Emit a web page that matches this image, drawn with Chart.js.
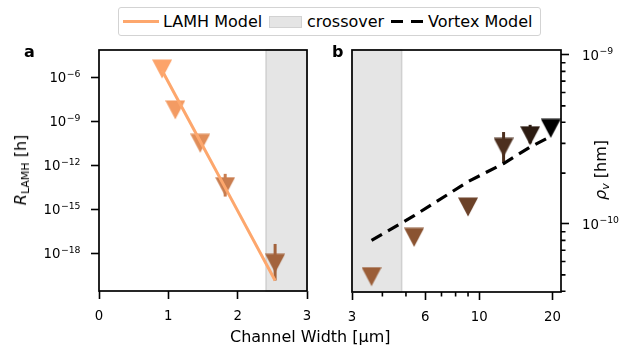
<!DOCTYPE html>
<html>
<head>
<meta charset="utf-8">
<script src="https://cdn.jsdelivr.net/npm/chart.js@4.4.0/dist/chart.umd.min.js"></script>
<style>
body { margin: 0; background: #fff; }
#wrap { position: relative; width: 630px; height: 348px; overflow: hidden; font-family: 'DejaVu Sans', sans-serif; }
#wrap canvas { position: absolute; top: 0; }
.t { position: absolute; font-size: 16px; line-height: 16px; white-space: nowrap; color: #000; }
.sw { position: absolute; }
.ytitle { position: absolute; font-size: 16px; line-height: 16px; white-space: nowrap; transform: translate(-50%, -50%) rotate(-90deg); }
.ytitle sub { font-size: 11px; vertical-align: -3px; line-height: 0; }
</style>
</head>
<body>
<div id="wrap">
  <canvas id="chartA" width="320" height="348" style="left:0"></canvas>
  <canvas id="chartB" width="310" height="348" style="left:320px"></canvas>

  <!-- legend -->
  <div class="sw" style="left:118px;top:7px;width:423px;height:29px;box-sizing:border-box;border:1px solid #d3d3d3;border-radius:3px;background:#fff"></div>
  <div class="sw" style="left:123px;top:19.5px;width:36px;height:3px;background:#fda76d"></div>
  <div class="t" style="left:163px;top:13.8px">LAMH Model</div>
  <div class="sw" style="left:269px;top:16px;width:33px;height:12px;box-sizing:border-box;background:#e5e5e5;border:1px solid #d2d2d2"></div>
  <div class="t" style="left:307px;top:13.8px">crossover</div>
  <div class="sw" style="left:391px;top:19.5px;width:12px;height:3px;background:#000"></div>
  <div class="sw" style="left:411px;top:19.5px;width:12px;height:3px;background:#000"></div>
  <div class="t" style="left:428px;top:13.8px">Vortex Model</div>

  <!-- panel letters -->
  <div class="t" style="left:24px;top:43.5px;font-weight:bold">a</div>
  <div class="t" style="left:332px;top:43.5px;font-weight:bold">b</div>

  <!-- axis titles -->
  <div class="ytitle" style="left:21px;top:170px"><i>R</i><sub>LAMH</sub> [h]</div>
  <div class="ytitle" style="left:601px;top:170px"><i>ρ</i><sub><i>v</i></sub> [hm]</div>
  <div class="t" style="left:230px;top:329px">Channel Width [µm]</div>
</div>

<script>
// PANEL A - LAMH regime
var widthA = [0.91, 1.1, 1.46, 1.82, 2.54];
var resA = [3.9e-6, 6.3e-9, 3.3e-11, 3.6e-14, 2.1e-19];
var resLoA = [null, null, null, 7.6e-15, 1.4e-20];
var resHiA = [null, null, null, 2.7e-13, 4.4e-18];
var lamhModel = [3.1e-6, 6.6e-8, 4.5e-11, 3.1e-14, 1.4e-20];
var colorsA = ["#fca36a", "#f39b63", "#e08d58", "#c97d4f", "#a3633c"];
var crossoverA = [2.41, 3];
var xTicksA = [0, 1, 2, 3];
var yTicksA = [1e-6, 1e-9, 1e-12, 1e-15, 1e-18];

// PANEL B - vortex regime
var widthB = [3.61, 5.4, 9.0, 12.6, 16.2, 19.7];
var rhoB = [4.88e-11, 8.34e-11, 1.26e-10, 2.84e-10, 3.33e-10, 3.68e-10];
var rhoLoB = [null, null, null, 2.3e-10, 3.0e-10, null];
var rhoHiB = [null, null, null, 3.5e-10, 3.86e-10, null];
var vortexModel = [8.0e-11, 1.12e-10, 1.78e-10, 2.28e-10, 2.85e-10, 3.3e-10];
var colorsB = ["#9b5e38", "#8a5331", "#6b4128", "#4d2f1e", "#2c1b11", "#000000"];
var crossoverB = [3, 4.8];
var xTicksB = [3, 6, 10, 20];
var xMinorB = [4, 5, 7, 8, 9];
var yTicksB = [1e-10, 1e-9];
var yMinorB = [4e-11, 5e-11, 6e-11, 7e-11, 8e-11, 9e-11, 2e-10, 3e-10, 4e-10, 5e-10, 6e-10, 7e-10, 8e-10, 9e-10];

var FAMILY = "'DejaVu Sans', sans-serif";

// matplotlib style "v" marker
function tri(color) {
    var c = document.createElement("canvas");
    c.width = 20;
    c.height = 20;
    var g = c.getContext("2d");
    g.fillStyle = color;
    g.beginPath();
    g.moveTo(0, 0.5);
    g.lineTo(20, 0.5);
    g.lineTo(10, 19.5);
    g.closePath();
    g.fill();
    return c;
}

// 10^n label with a raised exponent, like mathtext
function powLabel(ctx, v, x, y, side) {
    var ex = String(Math.round(Math.log10(v))).replace("-", "\u2212");
    ctx.font = "13.3px " + FAMILY;
    var wb = ctx.measureText("10").width;
    ctx.font = "9.3px " + FAMILY;
    var we = ctx.measureText(ex).width;
    var x0 = side === "left" ? x - wb - we : x;
    ctx.fillStyle = "#000";
    ctx.textAlign = "left";
    ctx.textBaseline = "alphabetic";
    ctx.font = "13.3px " + FAMILY;
    ctx.fillText("10", x0, y + 4.8);
    ctx.font = "9.3px " + FAMILY;
    ctx.fillText(ex, x0 + wb + 0.5, y - 0.5);
}

// shading, error bars, frame, minor ticks, power labels
var panelPlugin = {
    id: "panel",
    beforeDatasetsDraw: function (chart, args, o) {
        var ctx = chart.ctx, a = chart.chartArea, x = chart.scales.x, y = chart.scales.y;
        var x0 = Math.max(a.left, x.getPixelForValue(o.shade[0]));
        var x1 = Math.min(a.right, x.getPixelForValue(o.shade[1]));
        ctx.save();
        ctx.fillStyle = "#e5e5e5";
        ctx.fillRect(x0, a.top, x1 - x0, a.bottom - a.top);
        ctx.strokeStyle = "#d0d0d0";
        ctx.lineWidth = 1.5;
        ctx.strokeRect(x0, a.top, x1 - x0, a.bottom - a.top);
        ctx.lineWidth = 3;
        for (var i = 0; i < o.xs.length; i++) {
            if (o.lo[i] == null) continue;
            var px = x.getPixelForValue(o.xs[i]);
            ctx.strokeStyle = o.colors[i];
            ctx.beginPath();
            ctx.moveTo(px, y.getPixelForValue(o.lo[i]));
            ctx.lineTo(px, y.getPixelForValue(o.hi[i]));
            ctx.stroke();
        }
        ctx.restore();
    },
    afterDraw: function (chart, args, o) {
        var ctx = chart.ctx, a = chart.chartArea, x = chart.scales.x, y = chart.scales.y;
        ctx.save();
        ctx.strokeStyle = "#000";
        ctx.lineWidth = 1.6;
        ctx.beginPath();
        (o.minorX || []).forEach(function (v) {
            var px = x.getPixelForValue(v);
            ctx.moveTo(px, a.bottom);
            ctx.lineTo(px, a.bottom + 4.5);
        });
        (o.minorY || []).forEach(function (v) {
            var py = y.getPixelForValue(v);
            ctx.moveTo(a.right, py);
            ctx.lineTo(a.right + 4.5, py);
        });
        ctx.stroke();
        ctx.lineWidth = 1.7;
        ctx.strokeRect(a.left, a.top, a.right - a.left, a.bottom - a.top);
        o.yTicks.forEach(function (v) {
            var py = y.getPixelForValue(v);
            if (o.ySide === "left") powLabel(ctx, v, a.left - 19, py, "left");
            else powLabel(ctx, v, a.right + 21, py, "right");
        });
        ctx.restore();
    }
};

function axisStyle(extra) {
    var s = {
        border: { display: false },
        grid: { drawOnChartArea: false, tickLength: 8, tickWidth: 1.6, tickColor: "#000" },
        ticks: {
            font: { family: FAMILY, size: 13.3 }, color: "#000", padding: 10, maxRotation: 0, autoSkip: false,
            callback: function (v) { return String(v); }
        }
    };
    for (var k in extra) s[k] = extra[k];
    return s;
}

function noPad(s) {
    s.paddingLeft = 0;
    s.paddingRight = 0;
    s.paddingTop = 0;
    s.paddingBottom = 0;
}

new Chart(document.getElementById("chartA"), {
    type: "line",
    data: {
        datasets: [
            {
                data: widthA.map(function (w, i) { return { x: w, y: lamhModel[i] }; }),
                borderColor: "#fda76d",
                borderWidth: 3,
                pointRadius: 0,
                tension: 0
            },
            {
                data: widthA.map(function (w, i) { return { x: w, y: resA[i] }; }),
                showLine: false,
                pointRadius: 10,
                pointStyle: function (c) { return tri(colorsA[c.dataIndex]); }
            }
        ]
    },
    options: {
        responsive: false,
        animation: false,
        events: [],
        layout: { padding: { left: 0, top: 50, right: 13, bottom: 0 } },
        plugins: {
            legend: { display: false },
            tooltip: { enabled: false },
            panel: { shade: crossoverA, xs: widthA, lo: resLoA, hi: resHiA, colors: colorsA, yTicks: yTicksA, ySide: "left" }
        },
        scales: {
            x: axisStyle({
                type: "linear", min: 0, max: 3,
                afterBuildTicks: function (s) { s.ticks = xTicksA.map(function (v) { return { value: v }; }); },
                afterFit: function (s) { s.height = 57; noPad(s); }
            }),
            y: axisStyle({
                type: "logarithmic", min: Math.pow(10, -20.57), max: Math.pow(10, -4.11),
                afterBuildTicks: function (s) { s.ticks = yTicksA.map(function (v) { return { value: v }; }); },
                afterFit: function (s) { s.width = 99; noPad(s); }
            })
        }
    },
    plugins: [panelPlugin]
});
Chart.getChart("chartA").options.scales.y.ticks.display = false;
Chart.getChart("chartA").update();

new Chart(document.getElementById("chartB"), {
    type: "line",
    data: {
        datasets: [
            {
                data: widthB.map(function (w, i) { return { x: w, y: vortexModel[i] }; }),
                borderColor: "#000",
                borderWidth: 3.2,
                borderDash: [12, 7],
                borderCapStyle: "butt",
                pointRadius: 0,
                tension: 0
            },
            {
                data: widthB.map(function (w, i) { return { x: w, y: rhoB[i] }; }),
                showLine: false,
                pointRadius: 10,
                pointStyle: function (c) { return tri(colorsB[c.dataIndex]); }
            }
        ]
    },
    options: {
        responsive: false,
        animation: false,
        events: [],
        layout: { padding: { left: 32, top: 50, right: 0, bottom: 0 } },
        plugins: {
            legend: { display: false },
            tooltip: { enabled: false },
            panel: {
                shade: crossoverB, xs: widthB, lo: rhoLoB, hi: rhoHiB, colors: colorsB,
                minorX: xMinorB, minorY: yMinorB, yTicks: yTicksB, ySide: "right"
            }
        },
        scales: {
            x: axisStyle({
                type: "logarithmic", min: 3, max: 21.7,
                afterBuildTicks: function (s) { s.ticks = xTicksB.map(function (v) { return { value: v }; }); },
                afterFit: function (s) { s.height = 56; noPad(s); }
            }),
            y: axisStyle({
                type: "logarithmic", position: "right", min: 3.96e-11, max: 1.07e-9,
                afterBuildTicks: function (s) { s.ticks = yTicksB.map(function (v) { return { value: v }; }); },
                afterFit: function (s) { s.width = 69; noPad(s); }
            })
        }
    },
    plugins: [panelPlugin]
});
Chart.getChart("chartB").options.scales.y.ticks.display = false;
Chart.getChart("chartB").update();
</script>
</body>
</html>
